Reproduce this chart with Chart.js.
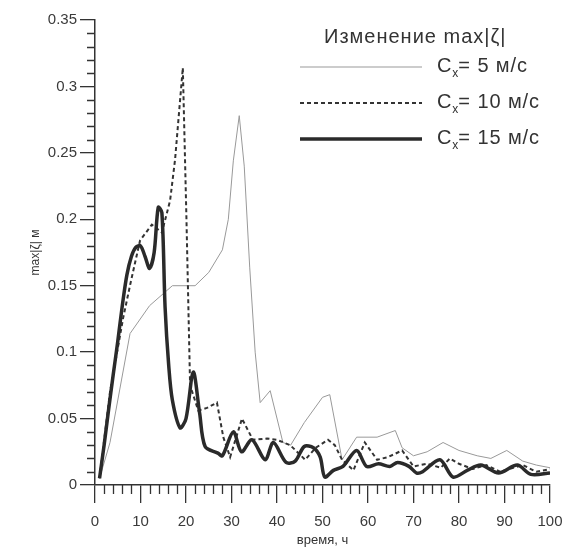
<!DOCTYPE html>
<html>
<head>
<meta charset="utf-8">
<script src="https://cdn.jsdelivr.net/npm/chart.js@4.4.0/dist/chart.umd.min.js"></script>
<style>
  html, body { margin: 0; padding: 0; background: #fff; }
  #wrap { position: relative; width: 564px; height: 549px; font-family: "Liberation Sans", Arial, sans-serif; color: #333; }
  #legend .ttl { position: absolute; left: 324px; top: 25px; font-size: 20px; letter-spacing: 1px; white-space: nowrap; }
  #legend .item { position: absolute; left: 300px; width: 262px; height: 26px; }
  #legend .item svg { position: absolute; left: 0; top: 0; }
  #legend .item span { position: absolute; left: 137px; top: 0px; font-size: 20px; letter-spacing: 0.9px; white-space: nowrap; }
  #legend sub { font-size: 12px; vertical-align: -5px; line-height: 0; letter-spacing: 0; }
</style>
</head>
<body>
<div id="wrap">
  <canvas id="chart" width="564" height="549"></canvas>
  <div id="legend">
    <div class="ttl">Изменение max|ζ|</div>
    <div class="item" style="top:54px">
      <svg width="124" height="26"><line x1="0" y1="13" x2="122" y2="13" stroke="#999" stroke-width="1"/></svg>
      <span>C<sub>x</sub>= 5 м/с</span>
    </div>
    <div class="item" style="top:90px">
      <svg width="124" height="26"><line x1="0" y1="13" x2="122" y2="13" stroke="#333" stroke-width="2" stroke-dasharray="4 3"/></svg>
      <span>C<sub>x</sub>= 10 м/с</span>
    </div>
    <div class="item" style="top:126px">
      <svg width="124" height="26"><line x1="0" y1="13" x2="122" y2="13" stroke="#2a2a2a" stroke-width="3.5"/></svg>
      <span>C<sub>x</sub>= 15 м/с</span>
    </div>
  </div>
</div>
<script>
// data (time in hours, max|zeta| in metres)
const time5 = [1, 3.3, 7.7, 12, 17, 22, 25, 28, 29.3, 30.4, 31.7, 32.8, 34, 35.2, 36.3, 38.5, 41.3, 43, 46, 50,
  51.6, 54.3, 57.5, 62, 66, 67.5, 70, 73, 76.5, 80, 84, 87, 90.5, 94, 97, 100];
const v5 = [0.005, 0.032, 0.114, 0.135, 0.15, 0.15, 0.16, 0.177, 0.2, 0.244, 0.278, 0.24, 0.164, 0.1, 0.062, 0.071, 0.032, 0.03, 0.047, 0.066,
  0.068, 0.019, 0.036, 0.036, 0.041, 0.028, 0.022, 0.025, 0.032, 0.026, 0.022, 0.02, 0.026, 0.018, 0.015, 0.013];

const time10 = [1, 3.3, 6.2, 8, 9.9, 12.5, 14.7, 16.5, 17.6, 19.3, 20.1, 20.9, 22.7, 24.6, 26.8, 28.2, 29.7, 32.3, 34.7, 37.8,
  40, 42.9, 46.2, 48.5, 51.2, 52.7, 54.3, 56.8, 59.3, 62, 64.4, 67.5, 70, 73, 76, 78, 80, 83, 86, 89, 91, 94, 97, 100];
const v10 = [0.005, 0.07, 0.126, 0.155, 0.184, 0.196, 0.19, 0.214, 0.245, 0.314, 0.2, 0.075, 0.056, 0.058, 0.062, 0.036, 0.021, 0.05, 0.034, 0.035,
  0.034, 0.03, 0.019, 0.028, 0.034, 0.03, 0.019, 0.011, 0.032, 0.019, 0.021, 0.026, 0.014, 0.016, 0.013, 0.02, 0.016, 0.012, 0.015, 0.01, 0.012, 0.015, 0.01, 0.012];

const time15 = [1, 2, 3, 4, 5, 6, 7, 8, 9, 10, 11, 12, 13, 13.9, 14.7, 15.4, 16.2, 17, 18.7, 20,
  21.6, 23, 24.2, 27, 28, 30.4, 32.2, 34.5, 37.4, 39.2, 42, 44, 46, 48, 49.5, 50.5, 52.4, 54.5, 57.5, 59.7,
  62.3, 64.8, 66.5, 69, 70.7, 72, 75.8, 78.7, 81.8, 84.8, 88.7, 92.8, 95.8, 100];
const v15 = [0.005, 0.03, 0.057, 0.083, 0.108, 0.135, 0.158, 0.172, 0.179, 0.18, 0.172, 0.163, 0.175, 0.209, 0.205, 0.134, 0.09, 0.064, 0.043, 0.05,
  0.085, 0.054, 0.029, 0.024, 0.022, 0.04, 0.025, 0.034, 0.019, 0.032, 0.017, 0.018, 0.029, 0.028, 0.021, 0.006, 0.011, 0.014, 0.026, 0.014,
  0.016, 0.014, 0.017, 0.014, 0.009, 0.01, 0.019, 0.006, 0.011, 0.015, 0.009, 0.015, 0.008, 0.009];

const xTicks = [0, 10, 20, 30, 40, 50, 60, 70, 80, 90, 100];
const yTicks = [0, 0.05, 0.1, 0.15, 0.2, 0.25, 0.3, 0.35];

function points(ts, vs) {
  return ts.map((t, i) => ({ x: t, y: vs[i] }));
}

// small ticks between the labelled ones
const minorTicks = {
  id: 'minorTicks',
  afterDraw(chart) {
    const { ctx, scales: { x, y } } = chart;
    ctx.save();
    ctx.strokeStyle = '#333';
    ctx.lineWidth = 1.3;
    ctx.beginPath();
    for (let i = 0; i < xTicks.length - 1; i++) {
      for (let k = 1; k < 5; k++) {
        const t = xTicks[i] + (xTicks[i + 1] - xTicks[i]) * k / 5;
        const px = Math.round(x.getPixelForValue(t)) + 0.5;
        ctx.moveTo(px, x.top);
        ctx.lineTo(px, x.top + 9);
      }
    }
    for (let i = 0; i < yTicks.length - 1; i++) {
      for (let k = 1; k < 5; k++) {
        const v = yTicks[i] + (yTicks[i + 1] - yTicks[i]) * k / 5;
        const py = Math.round(y.getPixelForValue(v)) + 0.5;
        ctx.moveTo(y.right, py);
        ctx.lineTo(y.right - 8, py);
      }
    }
    ctx.stroke();
    ctx.restore();
  }
};

const config = {
  type: 'line',
  data: {
    datasets: [
      {
        label: 'Cx= 15 м/с',
        data: points(time15, v15),
        borderColor: '#2a2a2a',
        borderWidth: 3.5,
        tension: 0.3,
        pointRadius: 0,
        order: 1
      },
      {
        label: 'Cx= 10 м/с',
        data: points(time10, v10),
        borderColor: '#333',
        borderWidth: 2,
        borderDash: [4, 3],
        tension: 0,
        pointRadius: 0,
        order: 2
      },
      {
        label: 'Cx= 5 м/с',
        data: points(time5, v5),
        borderColor: '#999',
        borderWidth: 1,
        tension: 0,
        pointRadius: 0,
        order: 3
      }
    ]
  },
  options: {
    responsive: false,
    animation: false,
    layout: { padding: { top: 20, right: 14, bottom: 0, left: 0 } },
    plugins: {
      legend: { display: false },
      tooltip: { enabled: false }
    },
    scales: {
      x: {
        type: 'linear',
        min: 0,
        max: 100,
        border: { color: '#333', width: 1.5 },
        grid: { drawOnChartArea: false, tickLength: 18, color: '#333', lineWidth: 1.3 },
        afterBuildTicks: (s) => { s.ticks = xTicks.map(v => ({ value: v })); },
        ticks: { color: '#3a3a3a', font: { family: 'Liberation Sans', size: 15 }, padding: 10, maxRotation: 0 },
        title: { display: true, text: 'время, ч', color: '#333', font: { family: 'Liberation Sans', size: 13 }, padding: { top: 0, bottom: 1 } },
        // fixed height, and let the "100" label hang past the plot edge
        afterFit: (s) => { s.height = 64; s.paddingLeft = 0; s.paddingRight = 0; }
      },
      y: {
        min: 0,
        max: 0.35,
        border: { color: '#333', width: 1.5 },
        grid: { drawOnChartArea: false, tickLength: 15, color: '#333', lineWidth: 1.3 },
        afterBuildTicks: (s) => { s.ticks = yTicks.map(v => ({ value: v })); },
        ticks: { color: '#3a3a3a', font: { family: 'Liberation Sans', size: 15 }, padding: 3, callback: (v) => String(+v.toFixed(2)) },
        title: { display: true, text: 'max|ζ| м', color: '#333', font: { family: 'Liberation Sans', size: 12 }, padding: { top: 28 } },
        afterFit: (s) => { s.width = 95; }
      }
    }
  },
  plugins: [minorTicks]
};

new Chart(document.getElementById('chart'), config);
</script>
</body>
</html>
